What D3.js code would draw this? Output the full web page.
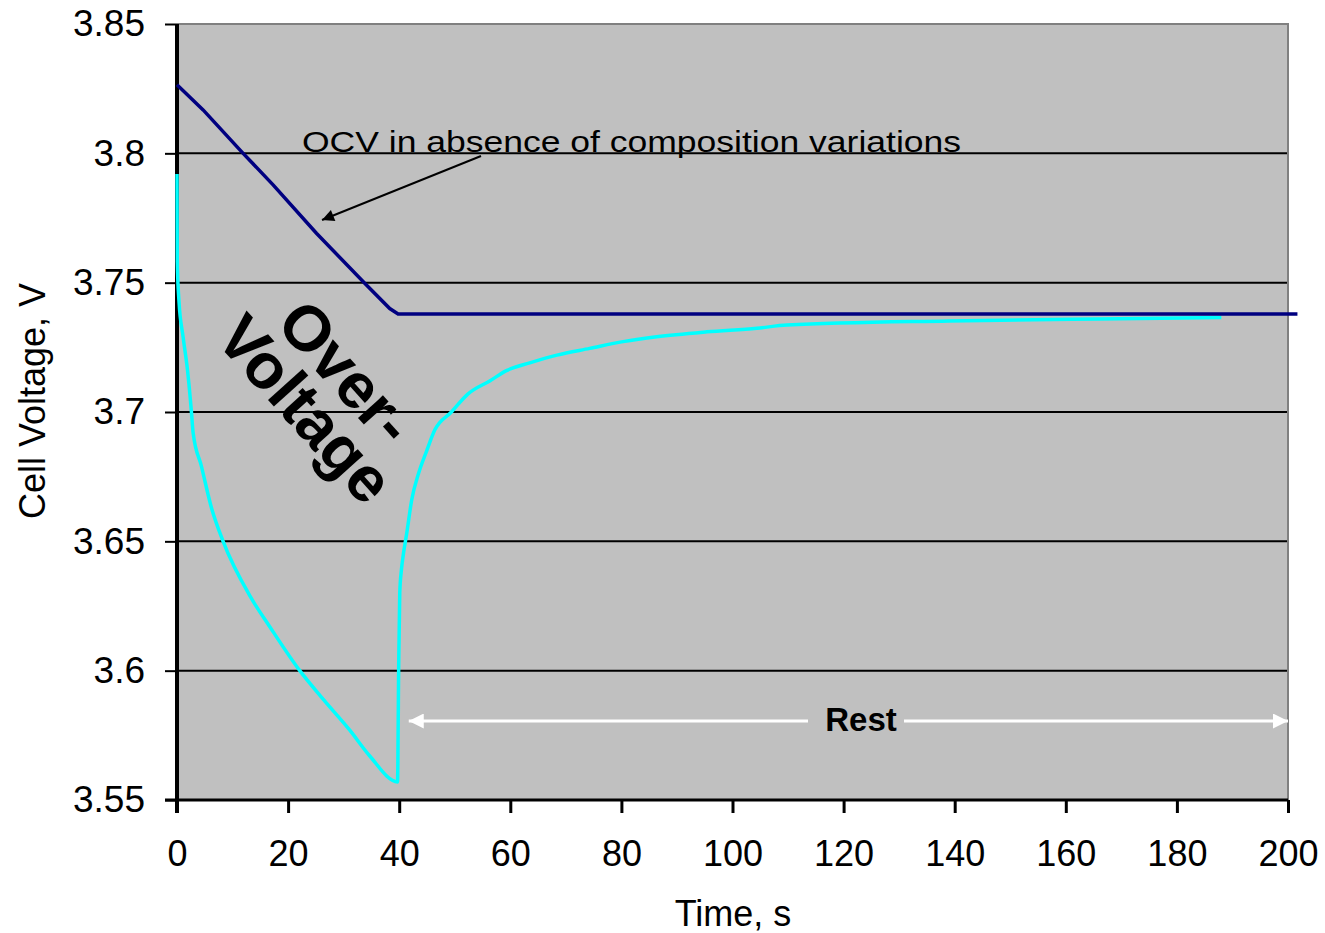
<!DOCTYPE html>
<html>
<head>
<meta charset="utf-8">
<script src="https://cdn.jsdelivr.net/npm/d3@7"></script>
<style>
  body { margin: 0; background: #fff; }
  svg { display: block; font-family: "Liberation Sans", Arial, sans-serif; }
</style>
</head>
<body>
<div id="chart"></div>
<script>
// OCV (no composition variations), [time s, volts]
const ocvTime = [0, 4.7, 11.9, 17.3, 25.1, 34.1, 38.3, 39.8, 201.7];
const ocvVolt = [3.8265, 3.8168, 3.800, 3.7878, 3.7691, 3.7491, 3.740, 3.7379, 3.7379];

// measured cell voltage (pulse then rest)
const cellTime = [0, 0.05, 0.35, 1.1, 1.9, 2.6, 2.9, 4.4, 6.2, 8.3, 13.1, 16.7, 22.1, 26.3, 31.1, 34.7, 39.7,
  39.9, 40.1, 40.4, 40.75, 41.35, 42.25, 43.45, 44.95, 46.4, 49.4, 52.4, 56.3, 59.3, 63.5, 68.4, 74.3,
  80.3, 86.35, 95.4, 104.4, 109.8, 139, 166, 188];
const cellVolt = [3.792, 3.758, 3.743, 3.729, 3.716, 3.700, 3.692, 3.679, 3.663, 3.650, 3.629, 3.617, 3.600, 3.589, 3.577, 3.567, 3.557,
  3.600, 3.630, 3.639, 3.645, 3.653, 3.666, 3.676, 3.685, 3.693, 3.700, 3.707, 3.712, 3.716, 3.719, 3.722, 3.7246,
  3.7272, 3.7291, 3.731, 3.7324, 3.7336, 3.7352, 3.736, 3.7365];

const yTicks = [3.55, 3.6, 3.65, 3.7, 3.75, 3.8, 3.85];
const yTickLabels = ["3.55", "3.6", "3.65", "3.7", "3.75", "3.8", "3.85"];
const xTicks = [0, 20, 40, 60, 80, 100, 120, 140, 160, 180, 200];

const W = 1325, H = 933;
const margin = {top: 24, right: 37, bottom: 133, left: 177};
const width = W - margin.left - margin.right;
const height = H - margin.top - margin.bottom;

const svg = d3.select("#chart").append("svg").attr("width", W).attr("height", H);
const g = svg.append("g").attr("transform", "translate(" + margin.left + "," + margin.top + ")");

const x = d3.scaleLinear().domain([0, 200]).range([0, width]);
const y = d3.scaleLinear().domain([3.55, 3.85]).range([height, 0]);

// plot area
g.append("rect").attr("width", width).attr("height", height).attr("fill", "#c0c0c0");

// gridlines
g.selectAll(".grid").data(yTicks.filter(v => v > 3.55 && v < 3.85))
  .enter().append("line")
    .attr("x1", 0).attr("x2", width)
    .attr("y1", d => y(d)).attr("y2", d => y(d))
    .attr("stroke", "#000").attr("stroke-width", 2);

// border top/right
g.append("path").attr("d", "M0," + y(3.85) + "H" + width + "V" + height)
  .attr("fill", "none").attr("stroke", "#808080").attr("stroke-width", 2);

// x-axis
const xAxis = d3.axisBottom(x).tickValues(xTicks).tickSize(13).tickPadding(27).tickFormat(d3.format("d"));
const xg = g.append("g").attr("transform", "translate(0," + height + ")").call(xAxis);
xg.select(".domain").attr("d", "M-12,0H" + width).attr("stroke", "#000").attr("stroke-width", 3);
xg.selectAll(".tick line").attr("stroke-width", 3);
xg.selectAll("text").attr("font-size", 36).attr("fill", "#000");

// y-axis
const yAxis = d3.axisLeft(y).tickValues(yTicks).tickSize(12).tickPadding(20)
  .tickFormat((d, i) => yTickLabels[i]);
const yg = g.append("g").call(yAxis);
yg.select(".domain").attr("d", "M0," + y(3.85) + "V" + (height + 13)).attr("stroke", "#000").attr("stroke-width", 4);
yg.selectAll(".tick line").attr("stroke-width", 2);
yg.selectAll("text").attr("font-size", 37).attr("fill", "#000");

// axis titles
svg.append("text").attr("x", 733).attr("y", 926).attr("text-anchor", "middle")
  .attr("font-size", 36).text("Time, s");
svg.append("text").attr("transform", "translate(45,401) rotate(-90)").attr("text-anchor", "middle")
  .attr("font-size", 36).text("Cell Voltage, V");

// series
const cellLine = d3.line().x(d => x(d[0])).y(d => y(d[1])).curve(d3.curveMonotoneX);
const ocvLine = d3.line().x(d => x(d[0])).y(d => y(d[1]));
const cellPts = cellTime.map((t, i) => [t, cellVolt[i]]);
const ocvPts = ocvTime.map((t, i) => [t, ocvVolt[i]]);

g.append("path").datum(cellPts).attr("d", cellLine)
  .attr("fill", "none").attr("stroke", "#00ffff").attr("stroke-width", 3.5);
g.append("path").datum(ocvPts).attr("d", ocvLine)
  .attr("fill", "none").attr("stroke", "#000080").attr("stroke-width", 3.5);

// arrow markers
const defs = svg.append("defs");
defs.append("marker").attr("id", "blackHead").attr("viewBox", "0 0 10 10")
  .attr("refX", 10).attr("refY", 5).attr("markerWidth", 8).attr("markerHeight", 6)
  .attr("markerUnits", "strokeWidth").attr("orient", "auto")
  .append("path").attr("d", "M0,0L10,5L0,10z").attr("fill", "#000");
defs.append("marker").attr("id", "whiteHead").attr("viewBox", "0 0 10 10")
  .attr("refX", 10).attr("refY", 5).attr("markerWidth", 5.5).attr("markerHeight", 5)
  .attr("markerUnits", "strokeWidth").attr("orient", "auto-start-reverse")
  .append("path").attr("d", "M0,0L10,5L0,10z").attr("fill", "#fff");

// OCV annotation
g.append("text").attr("x", 302 - margin.left).attr("y", 152 - margin.top)
  .attr("font-size", 30).attr("textLength", 659).attr("lengthAdjust", "spacingAndGlyphs")
  .text("OCV in absence of composition variations");
g.append("line")
  .attr("x1", 481 - margin.left).attr("y1", 156 - margin.top)
  .attr("x2", 322 - margin.left).attr("y2", 220 - margin.top)
  .attr("stroke", "#000").attr("stroke-width", 2).attr("marker-end", "url(#blackHead)");

// Over-Voltage label
const ov = g.append("g").attr("transform", "translate(" + (310 - margin.left) + "," + (405 - margin.top) + ") rotate(48)");
ov.append("text").attr("y", -27).attr("text-anchor", "middle").attr("font-size", 64).attr("font-weight", "bold").text("Over-");
ov.append("text").attr("y", 28).attr("text-anchor", "middle").attr("font-size", 64).attr("font-weight", "bold").text("Voltage");

// Rest arrow
const restY = 721 - margin.top;
g.append("line").attr("x1", x(40.1) + 9).attr("x2", 808 - margin.left)
  .attr("y1", restY).attr("y2", restY)
  .attr("stroke", "#fff").attr("stroke-width", 3).attr("marker-start", "url(#whiteHead)");
g.append("line").attr("x1", 904 - margin.left).attr("x2", x(200))
  .attr("y1", restY).attr("y2", restY)
  .attr("stroke", "#fff").attr("stroke-width", 3).attr("marker-end", "url(#whiteHead)");
g.append("text").attr("x", 861 - margin.left).attr("y", restY + 10).attr("text-anchor", "middle")
  .attr("font-size", 33).attr("font-weight", "bold").text("Rest");
</script>
</body>
</html>
